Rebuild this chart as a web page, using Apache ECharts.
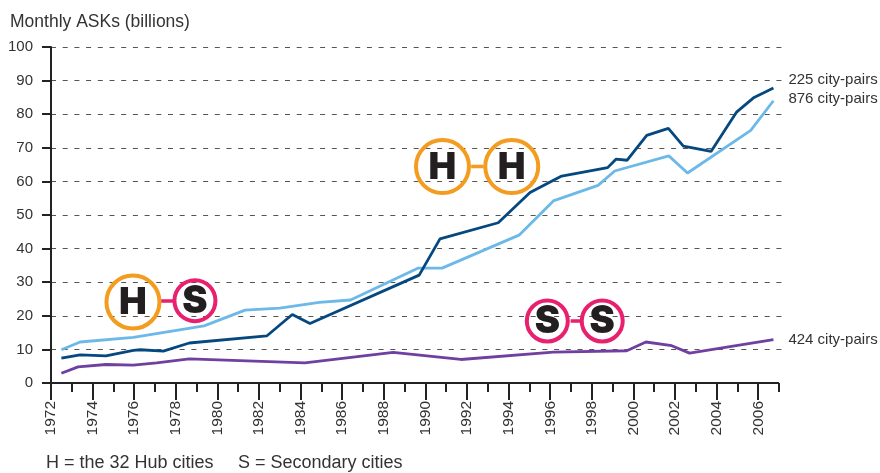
<!DOCTYPE html>
<html><head><meta charset="utf-8">
<style>html,body{margin:0;padding:0;background:#fff}#c{width:880px;height:473px}</style>
<script src="https://cdn.jsdelivr.net/npm/echarts@6/dist/echarts.min.js"></script>
</head><body><div id="c"></div>
<script>
const yTicks = [0,10,20,30,40,50,60,70,80,90,100];
const evenYears = [1972,1974,1976,1978,1980,1982,1984,1986,1988,1990,1992,1994,1996,1998,2000,2002,2004,2006];
const oddYears = [1973,1975,1977,1979,1981,1983,1985,1987,1989,1991,1993,1995,1997,1999,2001,2003,2005,2007];
const hubHub = [[1972.5,7.4],[1973.4,8.4],[1974.64,8.1],[1975.96,9.7],[1976.3,9.9],[1977.4,9.5],[1978.65,11.9],[1982.37,14.0],[1983.6,20.4],[1984.45,17.7],[1989.7,32.1],[1990.7,42.9],[1993.5,47.7],[1995.03,56.7],[1996.55,61.6],[1998.76,64.1],[1999.16,66.6],[1999.7,66.3],[2000.64,73.7],[2001.68,75.8],[2002.4,70.5],[2003.73,68.9],[2004.97,80.7],[2005.8,85],[2006.73,87.8]];
const hubSecondary = [[1972.5,9.9],[1973.4,12.2],[1975.96,13.6],[1979.36,17.0],[1981.33,21.7],[1983,22.3],[1984.9,24],[1986.4,24.7],[1989.66,34.2],[1990.8,34.2],[1994.5,44],[1996.15,54.2],[1998.3,58.8],[1999.1,63.1],[2001.7,67.6],[2002.6,62.5],[2005.64,75.2],[2006.73,84]];
const secondarySecondary = [[1972.5,2.9],[1973.3,4.8],[1974.64,5.5],[1975.96,5.3],[1977.08,6],[1978.65,7.2],[1984.2,6],[1988.45,9.1],[1991.7,7.0],[1996.15,9.2],[1999.68,9.6],[2000.6,12.2],[2001.84,11.1],[2002.7,8.9],[2006.73,12.9]];
const baseline = [[1972,0],[2007,0]];
const hhBadges = [[1990.82,64.4,'H',53,'#f39c1f',37],[1994.15,64.4,'H',53,'#f39c1f',37]];
const hsBadges = [[1975.94,24.1,'H',53,'#f39c1f',37],[1978.92,24.5,'S',41,'#e9206e',38]];
const ssBadges = [[1995.86,18.45,'S',41,'#e9206e',38],[1998.5,18.45,'S',41,'#e9206e',38]];
const hhLink = [[1992.2,64.4],[1992.8,64.4]];
const hsLink = [[1977.29,24.4],[1977.87,24.4]];
const ssLink = [[1996.98,18.45],[1997.44,18.45]];
const seriesLabels = ['225 city-pairs','876 city-pairs','424 city-pairs'];
const FONT = '"Liberation Sans", Arial, sans-serif';
const INK = '#333333', AXIS = '#222222', ORANGE = '#f39c1f', PINK = '#e9206e';

function endLabel(text, offset){
  return {show:true, formatter:text, color:INK, fontFamily:FONT, fontSize:15, distance:0, offset:offset, align:'left', verticalAlign:'middle'};
}
function link(points, color){
  return {type:'line', data:points, symbol:'none', silent:true, z:5, lineStyle:{color:color, width:3.5}};
}
function badges(points){
  return {type:'scatter', z:6, silent:true, symbol:'circle',
    data:points.map(p=>({value:[p[0],p[1]], symbolSize:p[3],
      itemStyle:{color:'rgba(255,255,255,0)', borderColor:p[4], borderWidth:4, opacity:1},
      label:{show:true, position:'inside', formatter:p[2], fontFamily:'Inter, "Liberation Sans", sans-serif',
        fontWeight:900, fontSize:p[5], color:'#231f20', textBorderWidth:0, textBorderColor:'transparent', offset:[0,1]}}))};
}
const chart = echarts.init(document.getElementById('c'), null, {renderer:'canvas'});
chart.setOption({
  animation:false,
  backgroundColor:'#fff',
  grid:{left:51, top:47, width:732.2, height:336, containLabel:false},
  xAxis:[
    {type:'value', min:1972, max:2007.2, position:'bottom', splitLine:{show:false}, axisLine:{show:false},
      axisTick:{show:true, customValues:evenYears, length:17, lineStyle:{color:AXIS, width:2}},
      axisLabel:{show:true, customValues:evenYears, rotate:90, margin:18, padding:[0,0,2,0], color:INK, fontFamily:FONT, fontSize:15.5, formatter:v=>String(v)}},
    {type:'value', min:1972, max:2007.2, position:'bottom', splitLine:{show:false}, axisLine:{show:false},
      axisTick:{show:true, customValues:oddYears, length:9, lineStyle:{color:AXIS, width:2}},
      axisLabel:{show:false}}
  ],
  yAxis:{type:'value', min:0, max:100, interval:10,
    axisLine:{show:true, onZero:false, lineStyle:{color:AXIS, width:2}},
    axisTick:{show:true, length:9, lineStyle:{color:AXIS, width:2}},
    axisLabel:{margin:18, padding:[3,0,0,0], color:INK, fontFamily:FONT, fontSize:15, formatter:v=>yTicks.includes(v)?String(v):''},
    splitLine:{show:true, showMinLine:false, lineStyle:{color:'#555', width:1, type:[5,6.7]}}
  },
  series:[
    {type:'line', data:baseline, symbol:'none', silent:true, clip:false, z:3, lineStyle:{color:AXIS, width:2}},
    {type:'line', data:secondarySecondary, symbol:'none', clip:false, z:4, lineStyle:{color:'#7040a0', width:2.8},
      endLabel:endLabel(seriesLabels[2],[15,0])},
    {type:'line', data:hubSecondary, symbol:'none', clip:false, z:4, lineStyle:{color:'#6cb9e8', width:2.8},
      endLabel:endLabel(seriesLabels[1],[15,-2])},
    {type:'line', data:hubHub, symbol:'none', clip:false, z:4, lineStyle:{color:'#05487f', width:2.8},
      endLabel:endLabel(seriesLabels[0],[15,-8])},
    link(hhLink, ORANGE), link(hsLink, PINK), link(ssLink, PINK),
    badges(hhBadges), badges(hsBadges), badges(ssBadges)
  ],
  graphic:[
    {type:'text', left:10, top:13, style:{text:'Monthly ASKs (billions)', fill:INK, font:'17.5px '+FONT}},
    {type:'text', left:46, top:454, style:{text:'H = the 32 Hub cities', fill:INK, font:'18px '+FONT}},
    {type:'text', left:238, top:454, style:{text:'S = Secondary cities', fill:INK, font:'18px '+FONT}}
  ]
});
</script></body></html>
